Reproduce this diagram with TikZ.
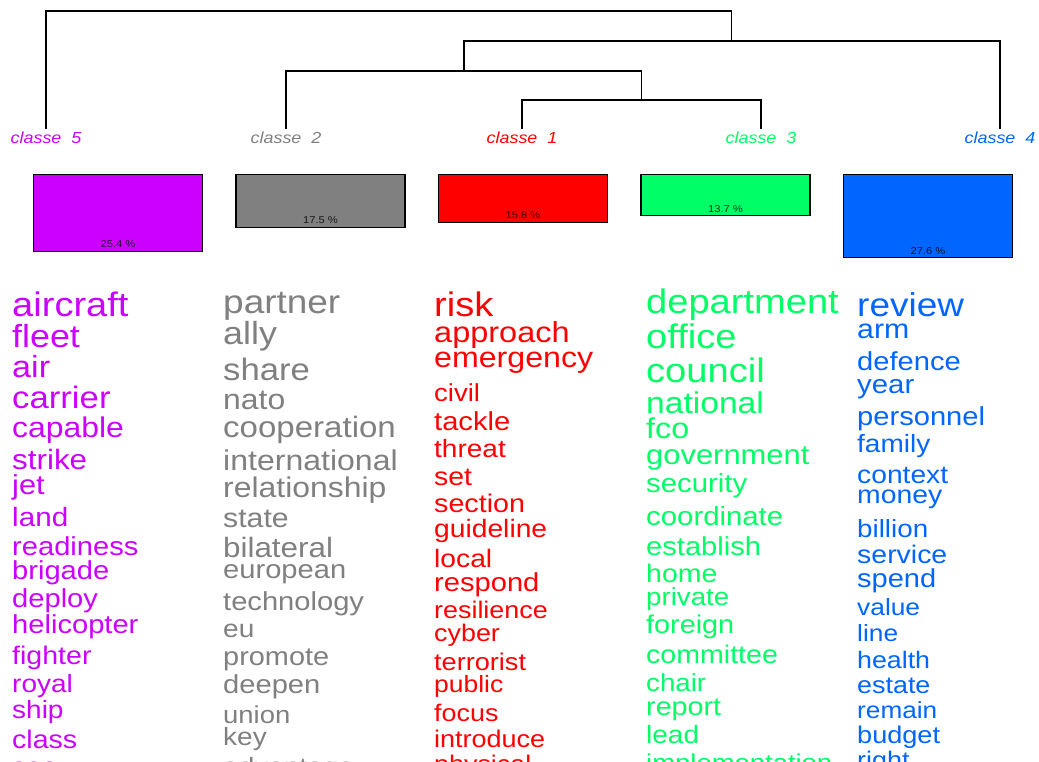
\documentclass[tikz,border=0pt]{standalone}
\usepackage{fontspec}
\setmainfont{Liberation Sans}
\usepackage{tikz}
\usetikzlibrary{positioning,calc}
\definecolor{cfive}{HTML}{CC00FF}
\definecolor{ctwo}{HTML}{808080}
\definecolor{cone}{HTML}{FF0000}
\definecolor{cthree}{HTML}{00FF66}
\definecolor{cfour}{HTML}{0066FF}
\tikzset{%
  % dendrogram
  tree/.style={draw=black, line width=1.1pt},
  classlab/.style={anchor=base, inner sep=0pt, font=\fontsize{16}{16}\selectfont\itshape},
  % bars
  bar/.style={draw=black, line width=1.1pt, anchor=north, minimum width=169pt, inner sep=0pt},
  pct/.style={anchor=base, inner sep=0pt, font=\fontsize{10}{10}\selectfont, text opacity=0.8},
  % word lists
  word/.style={anchor=base west, inner sep=0pt},
}
\newcommand{\wide}[1]{\scalebox{1.12}[1]{#1}}
\newcommand{\wsize}[1]{\fontsize{#1}{#1}\selectfont}

\begin{document}
\begin{tikzpicture}[x=1pt, y=-1pt]
  \fill[white] (0,0) rectangle (1039,762);
  \useasboundingbox (0,0) rectangle (1039,762);
  \clip (0,0) rectangle (1039,762);

  % classes
  \node[classlab, text=cfive] (l5) at (46,144) {\wide{classe\ \ 5}};
  \node[classlab, text=ctwo] (l2) at (286,144) {\wide{classe\ \ 2}};
  \node[classlab, text=cone] (l1) at (522,144) {\wide{classe\ \ 1}};
  \node[classlab, text=cthree] (l3) at (761,144) {\wide{classe\ \ 3}};
  \node[classlab, text=cfour] (l4) at (1000,144) {\wide{classe\ \ 4}};

  \coordinate (t5) at (46,129);
  \coordinate (t2) at (286,129);
  \coordinate (t1) at (522,129);
  \coordinate (t3) at (761,129);
  \coordinate (t4) at (1000,129);
  \coordinate (j13) at (641.5,100);
  \coordinate (j213) at (464,71);
  \coordinate (j4) at (731.5,41);
  \coordinate (root) at (388,11);

  \draw[tree] (t1) |- (j13) -| (t3);
  \draw[tree] (t2) |- (j213) -| (j13);
  \draw[tree] (j213) |- (j4) -| (t4);
  \draw[tree] (t5) |- (root) -| (j4);

  % bars
  \foreach \n/\x/\p/\c in {5/118/25.4/cfive, 2/320.5/17.5/ctwo, 1/523/15.8/cone,
                           3/725.5/13.7/cthree, 4/928/27.6/cfour} {
    \node[bar, fill=\c, minimum height={3.02pt*\p}] (b\n) at (\x,174) {};
    \node[pct] (p\n) at ([yshift=4pt]b\n.south) {\wide{\p~\%}};
  }

  % words
  \foreach \w/\s/\y in {aircraft/34/316, fleet/32/347, air/30.5/377, carrier/31/408,
      capable/28.5/437, strike/28/469, jet/27.5/494, land/26.5/526, readiness/26/555,
      brigade/26/579, deploy/26/607, helicopter/26/633, fighter/25.5/664, royal/25/692,
      ship/25/718, class/25.5/748, sea/25/775}
    \node[word, text=cfive, font=\wsize{\s}] (w5-\w) at (12,\y) {\wide{\w}};

  \foreach \w/\s/\y in {partner/33/313, ally/32/344, share/31/380, nato/28.5/409,
      cooperation/29.5/437, international/28.6/470, relationship/28.5/497, state/27/527,
      bilateral/28/557, european/26/578, technology/26/610, eu/25/637, promote/25.8/665,
      deepen/26/693, union/24.5/723, key/25/745, advantage/25/775}
    \node[word, text=ctwo, font=\wsize{\s}] (w2-\w) at (223,\y) {\wide{\w}};

  \foreach \w/\s/\y in {risk/34/316, approach/29/342, emergency/28.7/367, civil/24.6/401,
      tackle/26/430, threat/25/457, set/25.4/485, section/25.6/512, guideline/25.2/537,
      local/25.2/567, respond/26/591, resilience/24/618, cyber/24/641, terrorist/24.2/670,
      public/23.6/692, focus/24/721, introduce/24.1/747, physical/24/772}
    \node[word, text=cone, font=\wsize{\s}] (w1-\w) at (434,\y) {\wide{\w}};

  \foreach \w/\s/\y in {department/34/313, office/34/348, council/34/382, national/30/413,
      fco/28.8/438, government/27.6/464, security/26.2/492, coordinate/26.2/525,
      establish/26/555, home/25.4/582, private/24.7/605, foreign/25.7/633,
      committee/25.5/663, chair/24.7/691, report/25.6/715, lead/25/743,
      implementation/24.5/771}
    \node[word, text=cthree, font=\wsize{\s}] (w3-\w) at (646,\y) {\wide{\w}};

  \foreach \w/\s/\y in {review/33/316, arm/27/338, defence/26/370, year/26.2/393,
      personnel/26/425, family/25/452, context/25.2/483, money/25.3/503, billion/24.8/537,
      service/25.4/563, spend/25.9/587, value/23.5/615, line/23.5/641, health/23.9/668,
      estate/24/693, remain/23.4/718, budget/24.2/743, right/24/768}
    \node[word, text=cfour, font=\wsize{\s}] (w4-\w) at (857,\y) {\wide{\w}};
\end{tikzpicture}
\end{document}
